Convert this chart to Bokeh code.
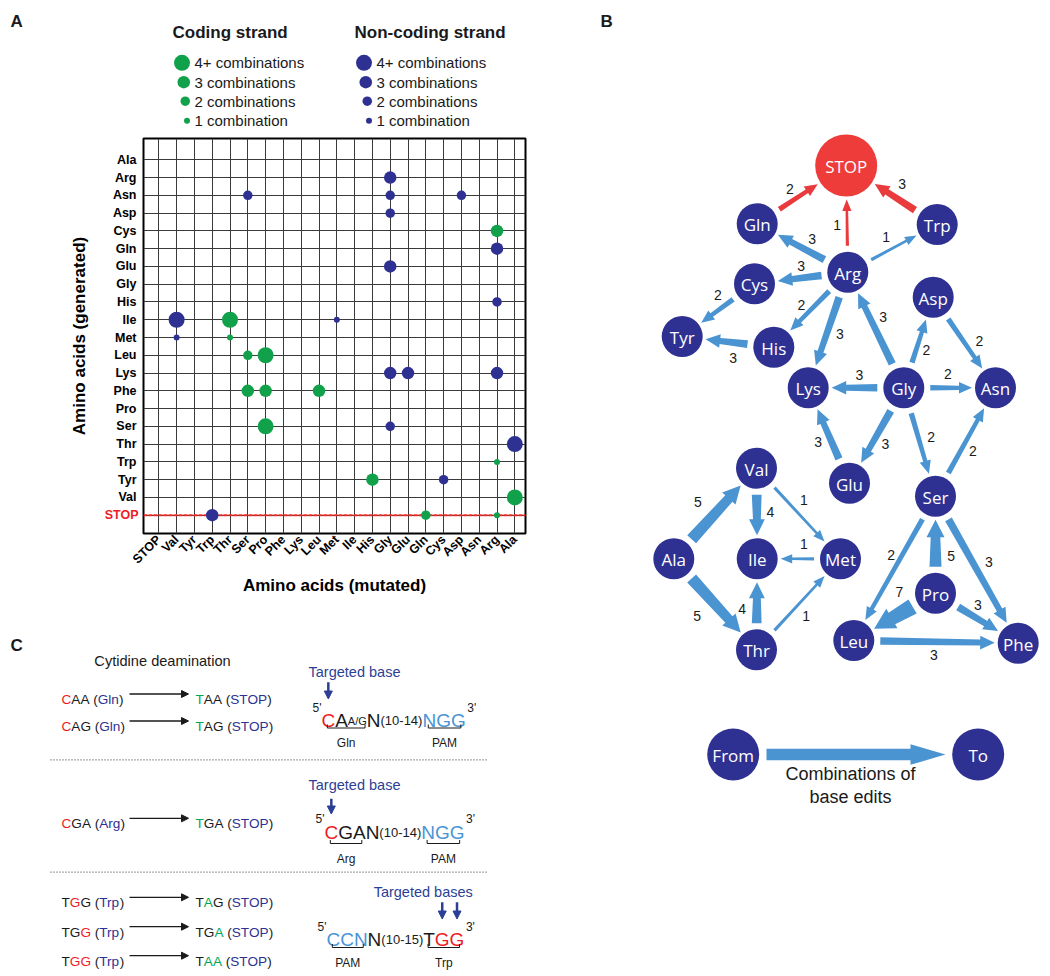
import math
from bokeh.plotting import figure
from bokeh.models import Range1d, FixedTicker, Span, Arrow, NormalHead, ColumnDataSource, LinearAxis
from bokeh.layouts import row, column
from bokeh.embed import file_html
from bokeh.resources import INLINE
from bokeh.core.properties import value

# ---------------- DATA ----------------
MUTATED = ["STOP", "Val", "Tyr", "Trp", "Thr", "Ser", "Pro", "Phe", "Lys", "Leu", "Met",
           "Ile", "His", "Gly", "Glu", "Gln", "Cys", "Asp", "Asn", "Arg", "Ala"]
GENERATED = ["Ala", "Arg", "Asn", "Asp", "Cys", "Gln", "Glu", "Gly", "His", "Ile", "Met",
             "Leu", "Lys", "Phe", "Pro", "Ser", "Thr", "Trp", "Tyr", "Val", "STOP"]

# coding strand (green)
CODING_FROM = ["Thr", "Thr", "Ser", "Pro", "Ser", "Pro", "Leu", "Pro", "Arg", "Arg", "His", "Ala", "Gln", "Arg"]
CODING_TO = ["Ile", "Met", "Leu", "Leu", "Phe", "Phe", "Phe", "Ser", "Cys", "Trp", "Tyr", "Val", "STOP", "STOP"]
CODING_N = [4, 1, 2, 7, 3, 3, 3, 5, 3, 1, 3, 5, 2, 1]

# non-coding strand (blue)
NONCODING_FROM = ["Gly", "Ser", "Gly", "Asp", "Gly", "Arg", "Gly", "Arg", "Val", "Met", "Val", "Gly",
                  "Glu", "Arg", "Gly", "Ala", "Cys", "Trp"]
NONCODING_TO = ["Arg", "Asn", "Asn", "Asn", "Asp", "Gln", "Glu", "His", "Ile", "Ile", "Met", "Lys",
                "Lys", "Lys", "Ser", "Thr", "Tyr", "STOP"]
NONCODING_N = [3, 2, 2, 2, 2, 3, 3, 2, 4, 1, 1, 3, 3, 3, 2, 5, 2, 3]

LEGEND_LEVELS = [4, 3, 2, 1]
LEGEND_LABELS = ["4+ combinations", "3 combinations", "2 combinations", "1 combination"]

# panel C
CODON_FROM = ["CAA", "CAG", "CGA", "TGG", "TGG", "TGG"]
CODON_TO = ["TAA", "TAG", "TGA", "TAG", "TGA", "TAA"]
AA_FROM = ["Gln", "Gln", "Arg", "Trp", "Trp", "Trp"]
AA_TO = "STOP"

# ---------------- STYLE / LAYOUT ----------------
GREEN = "#12a14b"
NAVY = "#2e3192"
EDGE_BLUE = "#4b94d2"
EDGE_RED = "#e93b3d"
STOP_RED = "#ee3c3a"
TXT_RED = "#ed1c24"
TXT_GREEN = "#00a651"
TXT_BLUE = "#2e3192"
TXT_LBLUE = "#4a95d6"
TGT_BLUE = "#2b3f96"
BLACK = "#1a1a1a"
SANS = "Liberation Sans"
DOT_SIZE = {1: 6, 2: 9.5, 3: 12.5, 4: 16}

NODE_POS = {
    "STOP": (845.7, 165), "Gln": (756.7, 223.3), "Trp": (936.7, 224), "Arg": (847.3, 271.7),
    "Cys": (754, 283.3), "Tyr": (681.7, 336), "His": (773.3, 346.7), "Asp": (932.7, 296.7),
    "Lys": (807.7, 387.3), "Gly": (903.3, 387.3), "Asn": (995, 387.3), "Glu": (849, 482.7),
    "Val": (756, 467.7), "Ser": (935, 495.7), "Ala": (673.3, 558.3), "Ile": (756.7, 558.3),
    "Met": (840, 558.3), "Thr": (756, 649.3), "Pro": (935, 592.7), "Leu": (853.3, 640),
    "Phe": (1017.7, 642.7),
}
LABEL_POS = {
    ("Gln", "STOP"): (789.3, 188.3), ("Trp", "STOP"): (901.7, 183.3), ("Arg", "STOP"): (836.7, 224),
    ("Arg", "Gln"): (811.7, 238.3), ("Arg", "Trp"): (885.7, 236.7), ("Arg", "Cys"): (800.7, 265.7),
    ("Cys", "Tyr"): (717.3, 294.3), ("Arg", "His"): (801, 304), ("His", "Tyr"): (732.7, 357.3),
    ("Arg", "Lys"): (839.3, 333.3), ("Gly", "Arg"): (882.7, 316), ("Gly", "Asp"): (926, 349.3),
    ("Asp", "Asn"): (979, 340.7), ("Gly", "Lys"): (859, 374), ("Gly", "Asn"): (947.3, 373.3),
    ("Glu", "Lys"): (817.7, 441.7), ("Gly", "Glu"): (885, 443.3), ("Gly", "Ser"): (930.7, 436.7),
    ("Ser", "Asn"): (972.3, 450), ("Ala", "Val"): (697.3, 501.7), ("Val", "Ile"): (770, 511.7),
    ("Val", "Met"): (803.3, 499.3), ("Met", "Ile"): (803.3, 543.3), ("Ala", "Thr"): (696.7, 615),
    ("Thr", "Ile"): (741.7, 608.3), ("Thr", "Met"): (805.7, 615), ("Ser", "Leu"): (890.7, 554),
    ("Pro", "Ser"): (950.7, 555), ("Ser", "Phe"): (988.3, 561.7), ("Pro", "Leu"): (899, 591.7),
    ("Pro", "Phe"): (977.3, 604), ("Leu", "Phe"): (933.3, 654.3),
}

# Arial advance widths (1/1000 em)
AW = {' ': 278, '(': 333, ')': 333, '-': 333, '/': 278, "'": 191,
      'A': 667, 'C': 722, 'G': 778, 'N': 722, 'O': 778, 'P': 667, 'S': 667, 'T': 611, 'M': 833,
      'a': 556, 'e': 556, 'g': 556, 'l': 222, 'n': 556, 'p': 556, 'r': 333, 's': 500, 't': 278,
      'y': 500, 'd': 556, 'b': 556, 'i': 222, 'm': 833, 'o': 556, 'c': 500, 'f': 278}
for _d in "0123456789":
    AW[_d] = 556


def tw(s, size):
    return sum(AW.get(c, 556) for c in s) * size / 1000.0


def txt(fig, x, y, s, size, color=BLACK, font=SANS, style="normal", align="left", baseline="alphabetic"):
    fig.text(x=[x], y=[y], text=[s], text_font=value(font), text_font_size=value(size),
             text_color=value(color), text_font_style=value(style), text_align=value(align),
             text_baseline=value(baseline))


def run_text(fig, x, y, parts, size):
    """Draw a run of differently coloured pieces; spaces only advance the pen."""
    for s, c in parts:
        if s.strip():
            txt(fig, x, y, s, f"{size}px", c)
        x += tw(s, size)
    return x


def blank_fig(w, h, x0, x1, y0, y1):
    f = figure(width=w, height=h, x_range=Range1d(x0, x1), y_range=Range1d(y0, y1),
               x_axis_type=None, y_axis_type=None, output_backend="svg", toolbar_location=None,
               min_border=0)
    f.outline_line_color = None
    f.background_fill_color = "white"
    f.border_fill_color = "white"
    return f


W_LEFT = 640
H_LEG, H_A, H_C = 130, 478, 366

# ---------------- PANEL A: legend strip ----------------
pl = blank_fig(W_LEFT, H_LEG, 0, 640, 130, 0)
txt(pl, 10, 21, "A", "17px", style="bold", baseline="middle")
txt(pl, 172, 32, "Coding strand", "17px", style="bold", baseline="middle")
txt(pl, 354, 32, "Non-coding strand", "17px", style="bold", baseline="middle")
LEG_Y = [62.3, 81.7, 100.7, 120.3]
for col_right, txt_x, color in [(189.5, 194, GREEN), (371.5, 376, NAVY)]:
    sizes = [DOT_SIZE[l] for l in LEGEND_LEVELS]
    pl.scatter(x=[col_right - s / 2 for s in sizes], y=LEG_Y, size=sizes,
               fill_color=color, line_color=None)
    for lab, y in zip(LEGEND_LABELS, LEG_Y):
        txt(pl, txt_x, y, lab, "15px", baseline="middle")
txt(pl, 600, 21, "B", "17px", style="bold", baseline="middle")

# ---------------- PANEL A: dot grid ----------------
pa = figure(width=W_LEFT, height=H_A, x_range=Range1d(-0.86, 20.6), y_range=Range1d(-1.03, 21.2),
            output_backend="svg", toolbar_location=None,
            min_border_left=143, min_border_right=115, min_border_top=8, min_border_bottom=75)
pa.background_fill_color = "white"
pa.border_fill_color = "white"
pa.outline_line_color = "black"
pa.outline_line_width = 2
pa.outline_line_alpha = 1
all_ticks = FixedTicker(ticks=list(range(21)))
pa.xaxis.ticker = all_ticks
pa.xgrid.ticker = all_ticks
pa.ygrid.ticker = all_ticks
pa.xaxis.major_label_overrides = {i: MUTATED[i] for i in range(21)}
pa.xaxis.major_label_orientation = math.pi / 4

# inner left axis: only the STOP row, in red
y_stop = pa.yaxis[0]
y_stop.ticker = FixedTicker(ticks=[0])
y_stop.major_label_overrides = {0: "STOP"}
# outer left axis: all amino acids
y_aa = LinearAxis(ticker=FixedTicker(ticks=[20 - i for i, g in enumerate(GENERATED) if g != "STOP"]),
                  major_label_overrides={20 - i: g for i, g in enumerate(GENERATED) if g != "STOP"})
pa.add_layout(y_aa, "left")

for ax in (pa.xaxis[0], y_stop, y_aa):
    ax.axis_line_color = None
    ax.major_tick_line_color = None
    ax.minor_tick_line_color = None
    ax.major_tick_out = 0
    ax.major_tick_in = 0
    ax.major_label_text_font = SANS
    ax.major_label_text_font_style = "bold"
    ax.major_label_text_font_size = "12.5px"
    ax.major_label_text_color = "black"
    ax.axis_label_text_font = SANS
    ax.axis_label_text_font_style = "bold"
    ax.axis_label_text_font_size = "17px"
    ax.axis_label_text_color = "black"
y_stop.major_label_text_color = "#ee1c24"
y_stop.major_label_standoff = 5
stop_w = round(tw("STOP", 12.5) * 1.02)
y_aa.major_label_standoff = -stop_w
pa.xaxis.major_label_standoff = 4
pa.xaxis.axis_label = "Amino acids (mutated)"
y_aa.axis_label = "Amino acids (generated)"
pa.xaxis.axis_label_standoff = 2
y_aa.axis_label_standoff = 21
for g in (pa.xgrid[0], pa.ygrid[0]):
    g.grid_line_color = "#3a3a3a"
    g.grid_line_width = 1
    g.grid_line_alpha = 1

pa.add_layout(Span(location=0, dimension="width", line_color="#ee2a24", line_width=2,
                   line_dash="4 1", level="underlay"))


def dot_source(frm, to, n):
    return ColumnDataSource(dict(
        x=[MUTATED.index(f) for f in frm],
        y=[20 - GENERATED.index(t) for t in to],
        s=[DOT_SIZE[min(k, 4)] for k in n]))


pa.scatter("x", "y", size="s", source=dot_source(CODING_FROM, CODING_TO, CODING_N),
           fill_color=GREEN, line_color=None)
pa.scatter("x", "y", size="s", source=dot_source(NONCODING_FROM, NONCODING_TO, NONCODING_N),
           fill_color=NAVY, line_color=None)

# ---------------- PANEL C ----------------
pc = blank_fig(W_LEFT, H_C, 0, 640, 608 + H_C, 608)
txt(pc, 10, 645, "C", "17px", style="bold", baseline="middle")
txt(pc, 162, 660, "Cytidine deamination", "14.6px", align="center", baseline="middle")

ROW_BASE = [699, 726, 823.3, 902.3, 931.7, 960.7]
ROW_FS = 13.6
for cf, ct, aa, yb in zip(CODON_FROM, CODON_TO, AA_FROM, ROW_BASE):
    left_parts = [(a, TXT_RED if a != b else BLACK) for a, b in zip(cf, ct)]
    left_parts += [(" ", BLACK), ("(", BLACK), (aa, TXT_BLUE), (")", BLACK)]
    run_text(pc, 61, yb, left_parts, ROW_FS)
    ya = yb - 5.5
    pc.add_layout(Arrow(end=NormalHead(size=7, fill_color=BLACK, line_color=BLACK, line_width=1),
                        x_start=129, y_start=ya, x_end=188, y_end=ya, line_color=BLACK, line_width=1.3))
    right_parts = [(b, TXT_GREEN if a != b else BLACK) for a, b in zip(cf, ct)]
    right_parts += [(" ", BLACK), ("(", BLACK), (AA_TO, TXT_BLUE), (")", BLACK)]
    run_text(pc, 195, yb, right_parts, ROW_FS)

for ysep in (759.3, 871.7):
    pc.segment(x0=[50], y0=[ysep], x1=[487], y1=[ysep], line_color="#555555", line_width=1.2,
               line_dash="1 2")

FS = {"big": 19, "mid": 13, "small": 11, "sup": 12}
COL = {"k": BLACK, "r": TXT_RED, "lb": TXT_LBLUE}
SEQ_BLOCKS = [
    [("5'", "sup", "k"), ("C", "big", "r"), ("A", "big", "k"), ("A/G", "small", "k"), ("N", "big", "k"),
     ("(10-14)", "mid", "k"), ("NGG", "big", "lb"), ("3'", "sup", "k")],
    [("5'", "sup", "k"), ("C", "big", "r"), ("GA", "big", "k"), ("N", "big", "k"),
     ("(10-14)", "mid", "k"), ("NGG", "big", "lb"), ("3'", "sup", "k")],
    [("5'", "sup", "k"), ("CCN", "big", "lb"), ("N", "big", "k"), ("(10-15)", "mid", "k"),
     ("T", "big", "k"), ("GG", "big", "r"), ("3'", "sup", "k")],
]
BRACKETS = [[((1, 3), "Gln"), ((6, 6), "PAM")],
            [((1, 2), "Arg"), ((5, 5), "PAM")],
            [((1, 1), "PAM"), ((4, 5), "Trp")]]
TARGETS = [[(1, 0)], [(1, 0)], [(5, 0), (5, 1)]]
TARGET_TEXT = ["Targeted base", "Targeted base", "Targeted bases"]
TARGET_TEXT_POS = [(354, 671.7), (354, 784), (422.7, 891.7)]
ARROW_Y = [(681.7, 698.5), (798.3, 813.5), (901.7, 918.5)]
BLOCK_X = [312, 315, 317]
BLOCK_BASE = [720, 831.7, 939]
BRACKET_Y = [727.5, 843, 947]
BRLABEL_Y = [742.5, 858, 962]

for bi, parts in enumerate(SEQ_BLOCKS):
    x = BLOCK_X[bi]
    base = BLOCK_BASE[bi]
    starts, ends = [], []
    for k, (s, sz, c) in enumerate(parts):
        if sz == "sup" and k > 0:
            x += 1.5
        y = base - 13 if sz == "sup" else base
        txt(pc, x, y, s, f"{FS[sz]}px", COL[c])
        starts.append(x)
        x += tw(s, FS[sz])
        ends.append(x)
    for (i0, i1), lab in BRACKETS[bi]:
        s0, s1 = parts[i0], parts[i1]
        xa = starts[i0] + tw(s0[0][0], FS[s0[1]]) / 2 - 1
        xb = ends[i1] - tw(s1[0][-1], FS[s1[1]]) / 2 + 2.5
        yb = BRACKET_Y[bi]
        pc.multi_line(xs=[[xa, xa, xb, xb]], ys=[[yb - 3.5, yb, yb, yb - 3.5]], line_color=BLACK,
                      line_width=1)
        txt(pc, (xa + xb) / 2, BRLABEL_Y[bi], lab, "12px", align="center")
    tx, ty = TARGET_TEXT_POS[bi]
    txt(pc, tx, ty, TARGET_TEXT[bi], "14.5px", TGT_BLUE, align="center", baseline="middle")
    for (si, ci) in TARGETS[bi]:
        s, sz, c = parts[si]
        cx = starts[si] + tw(s[:ci], FS[sz]) + tw(s[ci], FS[sz]) / 2
        pc.add_layout(Arrow(end=NormalHead(size=8, fill_color=TGT_BLUE, line_color=TGT_BLUE, line_width=1),
                            x_start=cx, y_start=ARROW_Y[bi][0], x_end=cx, y_end=ARROW_Y[bi][1],
                            line_color=TGT_BLUE, line_width=2.5))

# ---------------- PANEL B: network ----------------
H_TOTAL = H_LEG + H_A + H_C
pb = blank_fig(410, H_TOTAL, 640, 1050, H_TOTAL, 0)


def radius(n):
    return 31 if n == "STOP" else 20.5


def arrow_poly(x0, y0, x1, y1, ws, wh, hl, taper=0.8):
    dx, dy = x1 - x0, y1 - y0
    L = math.hypot(dx, dy)
    ux, uy = dx / L, dy / L
    nx, ny = -uy, ux
    bx, by = x1 - ux * hl, y1 - uy * hl
    pts = [(x0 + nx * ws / 2, y0 + ny * ws / 2),
           (bx + nx * ws * taper / 2, by + ny * ws * taper / 2),
           (bx + nx * wh / 2, by + ny * wh / 2),
           (x1, y1),
           (bx - nx * wh / 2, by - ny * wh / 2),
           (bx - nx * ws * taper / 2, by - ny * ws * taper / 2),
           (x0 - nx * ws / 2, y0 - ny * ws / 2)]
    return [p[0] for p in pts], [p[1] for p in pts]


EDGE_FROM = CODING_FROM + NONCODING_FROM
EDGE_TO = CODING_TO + NONCODING_TO
EDGE_N = CODING_N + NONCODING_N
exs, eys, ecol = [], [], []
lx, ly, lt = [], [], []
for f, t, n in zip(EDGE_FROM, EDGE_TO, EDGE_N):
    (xf, yf), (xt, yt) = NODE_POS[f], NODE_POS[t]
    L = math.hypot(xt - xf, yt - yf)
    ux, uy = (xt - xf) / L, (yt - yf) / L
    x0, y0 = xf + ux * (radius(f) + 6), yf + uy * (radius(f) + 6)
    x1, y1 = xt - ux * (radius(t) + 3), yt - uy * (radius(t) + 3)
    ws = 1 + 2.2 * n
    xs, ys = arrow_poly(x0, y0, x1, y1, ws, ws + 6, 10 + 1.5 * n)
    exs.append(xs)
    eys.append(ys)
    ecol.append(EDGE_RED if t == "STOP" else EDGE_BLUE)
    px, py = LABEL_POS[(f, t)]
    lx.append(px)
    ly.append(py)
    lt.append(str(n))
pb.patches(xs=exs, ys=eys, fill_color=ecol, line_color=None)
pb.text(x=lx, y=ly, text=lt, text_font=value(SANS), text_font_size=value("14px"),
        text_color=value(BLACK), text_align=value("center"), text_baseline=value("middle"))

names = list(NODE_POS.keys())
pb.scatter(x=[NODE_POS[n][0] for n in names], y=[NODE_POS[n][1] for n in names],
           size=[2 * radius(n) for n in names],
           fill_color=[STOP_RED if n == "STOP" else NAVY for n in names], line_color=None)
pb.text(x=[NODE_POS[n][0] for n in names], y=[NODE_POS[n][1] + 1 for n in names], text=names,
        text_font=value("Open Sans"), text_font_size=value("17px"), text_color=value("white"),
        text_align=value("center"), text_baseline=value("middle"))

# key
KEY_POS = {"From": (732.7, 754), "To": (977.7, 754)}
kxs, kys = arrow_poly(766, 754, 945, 754, 11.7, 20.7, 35, taper=1.0)
pb.patches(xs=[kxs], ys=[kys], fill_color=EDGE_BLUE, line_color=None)
pb.scatter(x=[p[0] for p in KEY_POS.values()], y=[p[1] for p in KEY_POS.values()], size=52,
           fill_color=NAVY, line_color=None)
pb.text(x=[p[0] for p in KEY_POS.values()], y=[p[1] + 1 for p in KEY_POS.values()], text=list(KEY_POS.keys()),
        text_font=value("Open Sans"), text_font_size=value("17px"), text_color=value("white"),
        text_align=value("center"), text_baseline=value("middle"))
txt(pb, 850, 773.3, "Combinations of", "18px", align="center", baseline="middle")
txt(pb, 850, 796.7, "base edits", "18px", align="center", baseline="middle")

left = column(column(pl), column(pa), column(pc), spacing=0)
layout = row(left, pb, spacing=0)
open("out.html", "w").write(file_html(layout, INLINE))
